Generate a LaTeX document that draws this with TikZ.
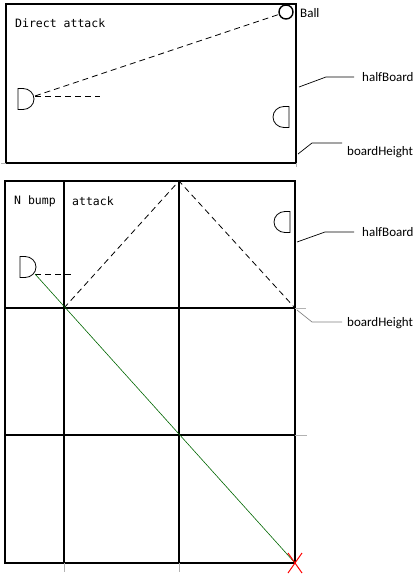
\documentclass[tikz,border=0pt]{standalone}
\usepackage{fontspec}
\setmainfont{Carlito}
\newfontfamily\codefont{DejaVu Sans Mono}
\usetikzlibrary{positioning}

\tikzset{
  board/.style={line width=1.4pt, black},
  overshoot/.style={line width=0.5pt, gray!60},
  shot/.style={dash pattern=on 6pt off 4pt, line width=0.8pt},
  leader/.style={line width=0.7pt},
  tag/.style={font=\fontsize{13}{15}\selectfont, anchor=west, inner sep=0pt},
  title/.style={font=\codefont\fontsize{11.5}{13}\selectfont, anchor=west, inner sep=0pt},
  goal/.pic={\draw[line width=0.8pt] (0,-10.5) -- (0,10.5) -- (5,10.5) arc[start angle=90, end angle=-90, x radius=11, y radius=10.5] -- cycle;}
}

\begin{document}
\begin{tikzpicture}[x=1pt,y=-1pt]
\useasboundingbox (0,0) rectangle (414,580);

% direct attack
\draw [board] (6,4) rectangle (296,163);
\draw [overshoot] (6,163) -- (1,163);
\draw [overshoot] (296,163) -- (296,167);
\node [title] (direct) at (15,23) {Direct attack};
\pic at (18,99) {goal};
\pic [xscale=-1] at (289,117) {goal};
\node [circle, draw, line width=1.4pt, minimum size=14pt, inner sep=0pt] (ball) at (286,12) {};
\node [tag] (balltag) at (300,13) {Ball};
\coordinate (shooter) at (35,96);
\coordinate (aim) at (100,96);
\draw [shot] (shooter) -- (ball);
\draw [shot] (shooter) -- (aim);

\node [tag] (half1) at (362,77) {halfBoard};
\coordinate (edge1) at (299,87);
\draw [leader] (edge1) -- ++(27,-10) -- ([xshift=-8pt]half1.west);
\node [tag] (height1) at (347,152) {boardHeight};
\coordinate (corner1) at (298,154);
\draw [leader] (corner1) -- ++(14,-11) -- ++(30,0);

% bump attack
\draw [board] (5,181) rectangle (295,563);
\draw [board] (64,181) -- (64,563);
\draw [board] (179,181) -- (179,563);
\draw [board] (5,308) -- (295,308);
\draw [board] (5,435) -- (295,435);
\draw [overshoot] (64,563) -- (64,572);
\draw [overshoot] (179,563) -- (179,572);
\draw [overshoot] (295,308) -- (306,308);
\draw [overshoot] (295,435) -- (307,435);

\node [title] (bump) at (14,201) {N bump};
\node [title] (attack) at (72,201) {attack};
\pic at (20,267) {goal};
\pic [xscale=-1] at (290,222) {goal};
\coordinate (shooter2) at (35,274);
\coordinate (aim2) at (72,274);
\coordinate (bounce) at (64,308);
\coordinate (peak) at (179,181);
\coordinate (rim) at (295,308);
\coordinate (target) at (295,563);
\draw [shot] (shooter2) -- (aim2);
\draw [shot] (bounce) -- (peak) -- (rim);
\draw [green!40!black, line width=0.6pt] (shooter2) -- (target);
\draw [red, line width=1pt] ([shift={(-7,-10)}]target) -- ([shift={(7,10)}]target);
\draw [red, line width=1pt] ([shift={(7,-10)}]target) -- ([shift={(-7,10)}]target);

\node [tag] (half2) at (362,232) {halfBoard};
\coordinate (edge2) at (297,242);
\draw [leader] (edge2) -- ++(28,-10) -- ([xshift=-8pt]half2.west);
\node [tag] (height2) at (347,323) {boardHeight};
\coordinate (corner2) at (297,310);
\draw [leader, gray] (corner2) -- ++(15,12) -- ++(30,0);
\end{tikzpicture}
\end{document}
